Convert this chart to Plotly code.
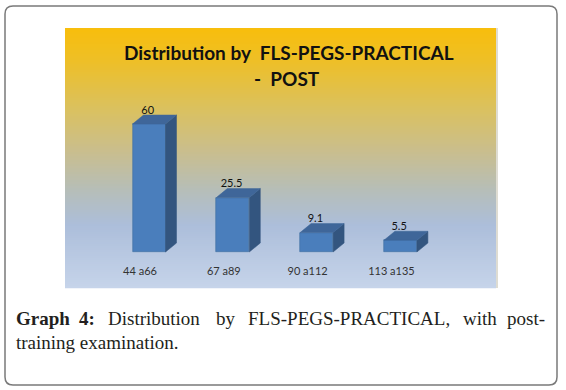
import plotly.graph_objects as go

# ---- data ----
categories = ["44 a66", "67 a89", "90 a112", "113 a135"]
values = [60, 25.5, 9.1, 5.5]
value_labels = ["60", "25.5", "9.1", "5.5"]

W, H = 566, 390

def px(x):
    return x / W

def py(y):
    return 1 - y / H

# axis mapping (pixel geometry of the reference)
spacing_px = 83.8
x0_px = 149
x_lo = -x0_px / spacing_px
x_hi = x_lo + W / spacing_px
base_px = 252
unit_px = 2.133
y_hi = base_px / unit_px
y_lo = -(H - base_px) / unit_px

bar_w = 33 / spacing_px
dx = 11 / spacing_px
dy = 9 / unit_px

FRONT = "#4A7EBC"
TOP = "#3F6699"
SIDE = "#33557F"

fig = go.Figure()

xs = list(range(len(categories)))

fig.add_trace(go.Bar(
    x=xs, y=values, width=bar_w,
    marker=dict(color=FRONT, line=dict(color="#41709F", width=0.6)),
    hoverinfo="skip", showlegend=False,
))

for i, v in enumerate(values):
    l = i - bar_w / 2
    r = i + bar_w / 2
    fig.add_trace(go.Scatter(
        x=[r, r + dx, r + dx, r, r], y=[0, dy, v + dy, v, 0],
        mode="lines", fill="toself", fillcolor=SIDE,
        line=dict(color=SIDE, width=0.5), hoverinfo="skip", showlegend=False,
    ))
    fig.add_trace(go.Scatter(
        x=[l, l + dx, r + dx, r, l], y=[v, v + dy, v + dy, v, v],
        mode="lines", fill="toself", fillcolor=TOP,
        line=dict(color=TOP, width=0.5), hoverinfo="skip", showlegend=False,
    ))

# value labels
fig.add_trace(go.Scatter(
    x=[i - 0.015 for i in xs], y=[v + dy + 1.9 for v in values],
    mode="text", text=value_labels, textposition="middle center",
    textfont=dict(family="Lato, Arial", size=11, color="#111111"),
    hoverinfo="skip", showlegend=False,
))

# category labels
fig.add_trace(go.Scatter(
    x=[i - 0.107 for i in xs], y=[-9.4] * len(xs),
    mode="text", text=categories, textposition="middle center",
    textfont=dict(family="Lato, Arial", size=11, color="#333333"),
    hoverinfo="skip", showlegend=False,
))

# ---- background gradient of the chart area ----
stops = [
    (28, (248, 190, 12)),
    (60, (238, 191, 38)),
    (110, (218, 193, 96)),
    (150, (202, 190, 140)),
    (190, (182, 190, 184)),
    (225, (172, 190, 218)),
    (288, (198, 212, 234)),
]

def col_at(y):
    for (y1, c1), (y2, c2) in zip(stops, stops[1:]):
        if y1 <= y <= y2:
            t = (y - y1) / (y2 - y1)
            return "rgb(%d,%d,%d)" % tuple(round(a + (b - a) * t) for a, b in zip(c1, c2))
    return "rgb(%d,%d,%d)" % stops[-1][1]

shapes = []
cl, cr, ct, cb = 65, 496, 28, 288
step = 2
y = ct
while y < cb:
    y2 = min(y + step, cb)
    shapes.append(dict(type="rect", xref="paper", yref="paper",
                       x0=px(cl), x1=px(cr), y0=py(y2 + 0.3), y1=py(y),
                       fillcolor=col_at(y + step / 2), line=dict(width=0), layer="below"))
    y = y2
shapes.append(dict(type="rect", xref="paper", yref="paper",
                   x0=px(cr), x1=px(cr + 2), y0=py(cb), y1=py(ct),
                   fillcolor="#DEDCD2", line=dict(width=0), layer="below"))

# outer rounded border
L, T, R, B, rad = 5, 6, 557, 385, 8
path = (f"M {px(L + rad)},{py(T)} L {px(R - rad)},{py(T)} "
        f"Q {px(R)},{py(T)} {px(R)},{py(T + rad)} "
        f"L {px(R)},{py(B - rad)} Q {px(R)},{py(B)} {px(R - rad)},{py(B)} "
        f"L {px(L + rad)},{py(B)} Q {px(L)},{py(B)} {px(L)},{py(B - rad)} "
        f"L {px(L)},{py(T + rad)} Q {px(L)},{py(T)} {px(L + rad)},{py(T)} Z")
shapes.append(dict(type="path", xref="paper", yref="paper", path=path,
                   line=dict(color="#7A7A7A", width=1.5), layer="above"))

# ---- text annotations ----
ann = []
title_font = dict(family="Lato, Arial", size=19, color="#111111")
ann.append(dict(text="<b>Distribution by \u00a0FLS-PEGS-PRACTICAL</b>", x=px(288.5), y=py(53),
                xref="paper", yref="paper", showarrow=False, xanchor="center", yanchor="middle",
                font=title_font))
ann.append(dict(text="<b>- \u00a0POST</b>", x=px(287), y=py(79),
                xref="paper", yref="paper", showarrow=False, xanchor="center", yanchor="middle",
                font=title_font))

cap_font = dict(family="Liberation Serif, Times New Roman", size=19, color="#231F20")
line1 = [("<b>Graph</b>", 15, "left"), ("<b>4:</b>", 78, "left"), ("Distribution", 107, "left"),
         ("by", 215, "left"), ("FLS-PEGS-PRACTICAL,", 247, "left"), ("with", 462, "left"),
         ("post-", 547, "right")]
for txt, xx, anc in line1:
    ann.append(dict(text=txt, x=px(xx), y=py(318), xref="paper", yref="paper", showarrow=False,
                    xanchor=anc, yanchor="middle", font=cap_font, xshift=-1 if anc == "left" else 0))
ann.append(dict(text="training examination.", x=px(15), y=py(342), xref="paper", yref="paper",
                showarrow=False, xanchor="left", yanchor="middle", font=cap_font, xshift=-1))

fig.update_layout(
    width=W, height=H,
    margin=dict(l=0, r=0, t=0, b=0),
    paper_bgcolor="white", plot_bgcolor="white",
    xaxis=dict(range=[x_lo, x_hi], visible=False, fixedrange=True),
    yaxis=dict(range=[y_lo, y_hi], visible=False, fixedrange=True),
    shapes=shapes, annotations=ann, showlegend=False,
    bargap=0,
)

fig.write_html("out.html", post_script="document.body.style.margin='0';",
               config={"displayModeBar": False})
